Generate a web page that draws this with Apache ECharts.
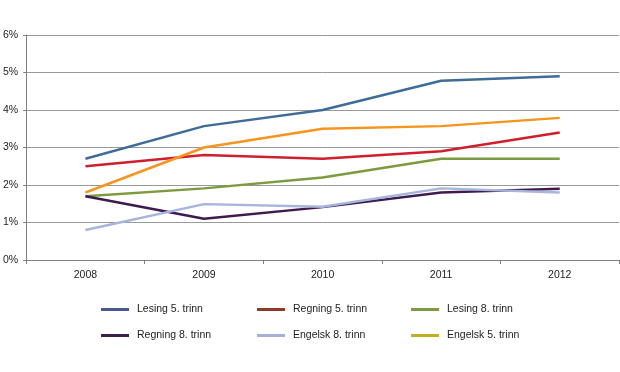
<!DOCTYPE html>
<html>
<head>
<meta charset="utf-8">
<script src="https://cdn.jsdelivr.net/npm/echarts@6/dist/echarts.min.js"></script>
<style>html,body{margin:0;padding:0;background:#fff}#c{width:620px;height:372px}</style>
</head>
<body>
<div id="c"></div>
<script>
const years = ["2008", "2009", "2010", "2011", "2012"];
const yTicks = [0, 1, 2, 3, 4, 5, 6];
const lesing5 = [2.7, 3.57, 4.0, 4.78, 4.9];
const regning5 = [2.5, 2.8, 2.7, 2.9, 3.4];
const lesing8 = [1.7, 1.91, 2.2, 2.7, 2.7];
const regning8 = [1.7, 1.1, 1.41, 1.8, 1.9];
const engelsk8 = [0.8, 1.49, 1.42, 1.91, 1.8];
const engelsk5 = [1.8, 3.0, 3.5, 3.57, 3.79];

const seriesDefs = [
  { name: "Lesing 5. trinn", data: lesing5, color: "#3f6c98", legend: "#4a5792" },
  { name: "Regning 5. trinn", data: regning5, color: "#cf1f2d", legend: "#8d3b2c" },
  { name: "Lesing 8. trinn", data: lesing8, color: "#7c9a3e", legend: "#7f9a41" },
  { name: "Regning 8. trinn", data: regning8, color: "#3e1a4e", legend: "#3c1e4e" },
  { name: "Engelsk 8. trinn", data: engelsk8, color: "#a6b5dc", legend: "#a2b1da" },
  { name: "Engelsk 5. trinn", data: engelsk5, color: "#f7941e", legend: "#c3ae22" }
];

const font = "Liberation Sans, Arial, sans-serif";
function legendCol(left, names) {
  return {
    orient: "vertical",
    left: left,
    top: 304,
    padding: 0,
    itemWidth: 28,
    itemHeight: 3,
    itemGap: 15,
    icon: "rect",
    textStyle: { fontFamily: font, fontSize: 10.5, color: "#222", padding: [0, 0, 0, 3] },
    data: names.map(n => {
      const d = seriesDefs.find(s => s.name === n);
      return { name: n, icon: "rect", itemStyle: { color: d.legend } };
    })
  };
}

const chart = echarts.init(document.getElementById("c"), null, { renderer: "canvas" });
chart.setOption({
  animation: false,
  backgroundColor: "#fff",
  grid: { left: 23, right: 1, top: 35, bottom: 112, containLabel: false },
  legend: [
    legendCol(101, ["Lesing 5. trinn", "Regning 8. trinn"]),
    legendCol(257, ["Regning 5. trinn", "Engelsk 8. trinn"]),
    legendCol(411, ["Lesing 8. trinn", "Engelsk 5. trinn"])
  ],
  xAxis: {
    type: "category",
    data: years,
    boundaryGap: true,
    axisLine: { lineStyle: { color: "#808080", width: 1 } },
    axisTick: { show: true, length: 4, inside: false, lineStyle: { color: "#808080" } },
    axisLabel: { fontFamily: font, fontSize: 10.5, color: "#222", margin: 10 },
    splitLine: { show: false }
  },
  yAxis: {
    type: "value",
    min: yTicks[0],
    max: yTicks[yTicks.length - 1],
    interval: 1,
    axisLine: { show: true, lineStyle: { color: "#808080", width: 1 } },
    axisTick: { show: true, length: 3, lineStyle: { color: "#808080" } },
    axisLabel: { fontFamily: font, fontSize: 10.5, color: "#222", margin: 8, formatter: "{value}%" },
    splitLine: { show: true, lineStyle: { color: "#999", width: 1 } }
  },
  series: seriesDefs.map(s => ({
    name: s.name,
    type: "line",
    data: s.data,
    showSymbol: false,
    symbol: "none",
    lineStyle: { color: s.color, width: 2.5 },
    itemStyle: { color: s.color },
    emphasis: { disabled: true }
  }))
});
</script>
</body>
</html>
